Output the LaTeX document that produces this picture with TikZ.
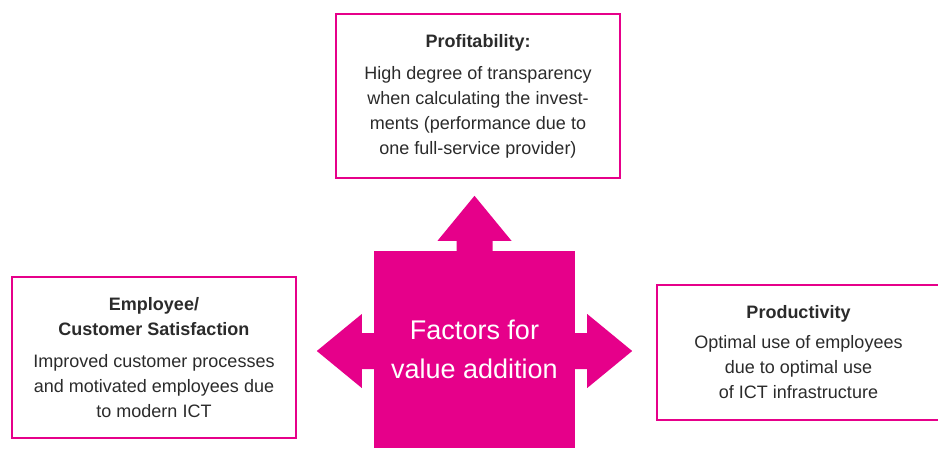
\documentclass[tikz,border=0pt]{standalone}
\usepackage{fontspec}
\setmainfont{Liberation Sans}
\definecolor{tmagenta}{HTML}{E6008A}
\definecolor{tgray}{HTML}{2B2B2B}
\tikzset{
  valuebox/.style = {draw=tmagenta, line width=2pt, fill=white, text=tgray,
                     align=center, inner sep=0pt,
                     font=\fontsize{18}{25}\selectfont},
  corebox/.style  = {fill=tmagenta, text=white, align=center, inner sep=0pt,
                     minimum width=201pt, minimum height=197pt,
                     font=\fontsize{27}{39}\selectfont},
  blockarrow/.style = {fill=tmagenta, draw=none}
}
\begin{document}
\begin{tikzpicture}[x=1pt, y=-1pt]
    \useasboundingbox (0,0) rectangle (938,448);

    % centre square and its three arrows
    \node[corebox] (core) at (474.5,349.5) {Factors for\\value addition};
    \fill[blockarrow] ([xshift=-18pt]core.north) -- ++(0,-10) -- ++(-19,0)
        -- ++(37,-45) -- ++(37,45) -- ++(-19,0) -- ++(0,10) -- cycle;
    \fill[blockarrow] ([yshift=16.5pt]core.west) -- ++(-12,0) -- ++(0,-19)
        -- ++(-45,37) -- ++(45,37) -- ++(0,-19) -- ++(12,0) -- cycle;
    \fill[blockarrow] ([yshift=16.5pt]core.east) -- ++(12,0) -- ++(0,-19)
        -- ++(45,37) -- ++(-45,37) -- ++(0,-19) -- ++(-12,0) -- cycle;

    % the three boxes
    \node[valuebox, minimum width=284pt, minimum height=164pt] (profit) at (478,96)
        {\textbf{Profitability:}\\[7pt]
         High degree of transparency\\
         when calculating the invest-\\
         ments (performance due to\\
         one full-service provider)};
    \node[valuebox, minimum width=284pt, minimum height=161pt] (staff) at (154,357.5)
        {\textbf{Employee/}\\
         \textbf{Customer Satisfaction}\\[7pt]
         Improved customer processes\\
         and motivated employees due\\
         to modern ICT};
    \node[valuebox, minimum width=283pt, minimum height=135pt] (prod) at (798.5,352.5)
        {\textbf{Productivity}\\[5pt]
         Optimal use of employees\\
         due to optimal use\\
         of ICT infrastructure};
\end{tikzpicture}
\end{document}
